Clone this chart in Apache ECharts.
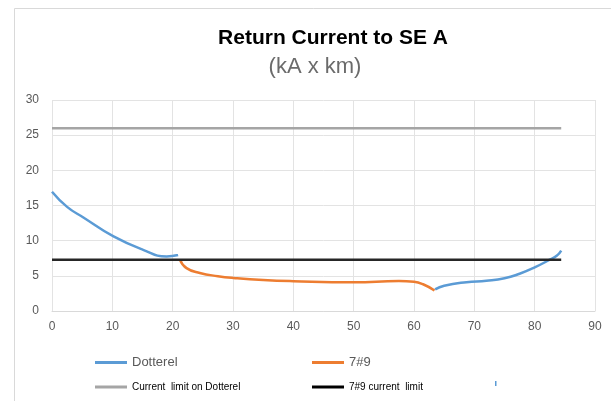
<!DOCTYPE html>
<html lang="en">
<head>
    <meta charset="UTF-8">
    <title>Return Current to SE A</title>
    <script src="https://cdn.jsdelivr.net/npm/echarts@6/dist/echarts.min.js"></script>
    <style>
        html, body { margin: 0; padding: 0; background: #fff; }
        #chart { width: 611px; height: 401px; }
    </style>
</head>
<body>
    <div id="chart"></div>
    <script>
        // values: [distance km, kA x km]
        const xTicks = [0, 10, 20, 30, 40, 50, 60, 70, 80, 90];
        const yTicks = [0, 5, 10, 15, 20, 25, 30];

        const dotterelStart = [[0, 16.95], [2.5, 14.8], [5.2, 13.3], [10.2, 10.6], [15.1, 8.7], [19, 7.75], [20.9, 7.95]];
        const dotterelEnd = [[63.5, 3.07], [65, 3.6], [68.7, 4.1], [72, 4.3], [75, 4.65],
            [77.5, 5.3], [80, 6.2], [82.5, 7.3], [83.7, 7.9], [84.4, 8.6]];
        const line79 = [[21.2, 7.3], [22.3, 6.1], [24.5, 5.4], [27.5, 4.95], [30.1, 4.7], [35, 4.4], [40, 4.24],
            [50, 4.1], [57.5, 4.25], [60, 4.15], [61.5, 3.8], [63.4, 2.92]];

        const limitSpan = [0, 84.4];
        const dotterelLimit = 26;
        const limit79 = 7.3;

        const chart = echarts.init(document.getElementById('chart'));

        // legend entries, one component each so rows can carry their own style
        function legendItem(name, left, top, size, color) {
            return {
                data: [name], left: left, top: top,
                icon: 'rect', itemWidth: 32, itemHeight: 3,
                textStyle: { fontFamily: 'Liberation Sans', fontSize: size, color: color }
            };
        }

        const option = {
            animation: false,
            title: [
                {
                    text: 'Return Current to SE A', left: 328, top: 23, textAlign: 'center',
                    textStyle: { fontFamily: 'Liberation Sans', fontWeight: 'bold', fontSize: 21, color: '#000' }
                },
                {
                    text: '(kA x km)', left: 310, top: 51, textAlign: 'center',
                    textStyle: { fontFamily: 'Liberation Sans', fontWeight: 'normal', fontSize: 22, color: '#6b6b6b' }
                }
            ],
            legend: [
                legendItem('Dotterel', 90, 351, 13, '#595959'),
                legendItem('7#9', 307, 351, 13, '#595959'),
                legendItem('Current  limit on Dotterel', 90, 377, 10, '#000'),
                legendItem('7#9 current  limit', 307, 377, 10, '#000')
            ],
            grid: { left: 52, right: 16, top: 100, bottom: 90 },
            xAxis: {
                type: 'value', min: xTicks[0], max: xTicks[xTicks.length - 1], interval: 10,
                axisLine: { lineStyle: { color: '#d9d9d9', width: 1 } },
                axisTick: { show: false },
                axisLabel: { fontFamily: 'Liberation Sans', fontSize: 12, color: '#595959', margin: 10 },
                splitLine: { lineStyle: { color: '#e3e3e3' } }
            },
            yAxis: {
                type: 'value', min: yTicks[0], max: yTicks[yTicks.length - 1], interval: 5,
                axisLine: { show: false },
                axisTick: { show: false },
                axisLabel: { fontFamily: 'Liberation Sans', fontSize: 12, color: '#595959', margin: 13 },
                splitLine: { lineStyle: { color: '#e3e3e3' } }
            },
            graphic: [
                {
                    type: 'rect', left: 12, top: 6, z: -1,
                    shape: { width: 620, height: 393 },
                    style: { fill: 'none', stroke: '#d9d9d9', lineWidth: 1 }
                },
                {
                    type: 'rect', left: 495, top: 381,
                    shape: { width: 1.5, height: 5 },
                    style: { fill: '#5b9bd5' }
                }
            ],
            series: [
                {
                    name: 'Dotterel', type: 'line', data: dotterelStart, smooth: 0.5,
                    showSymbol: false, lineStyle: { color: '#5b9bd5', width: 2.5 }, itemStyle: { color: '#5b9bd5' }
                },
                {
                    name: 'Dotterel', type: 'line', data: dotterelEnd, smooth: 0.5,
                    showSymbol: false, lineStyle: { color: '#5b9bd5', width: 2.5 }, itemStyle: { color: '#5b9bd5' }
                },
                {
                    name: '7#9', type: 'line', data: line79, smooth: 0.5,
                    showSymbol: false, lineStyle: { color: '#ed7d31', width: 2.5 }, itemStyle: { color: '#ed7d31' }
                },
                {
                    name: 'Current  limit on Dotterel', type: 'line',
                    data: limitSpan.map(x => [x, dotterelLimit]),
                    showSymbol: false, lineStyle: { color: '#a5a5a5', width: 2.5 }, itemStyle: { color: '#a5a5a5' }
                },
                {
                    name: '7#9 current  limit', type: 'line',
                    data: limitSpan.map(x => [x, limit79]),
                    showSymbol: false, lineStyle: { color: '#262626', width: 2.5 }, itemStyle: { color: '#000' }
                }
            ]
        };

        chart.setOption(option);
    </script>
</body>
</html>
